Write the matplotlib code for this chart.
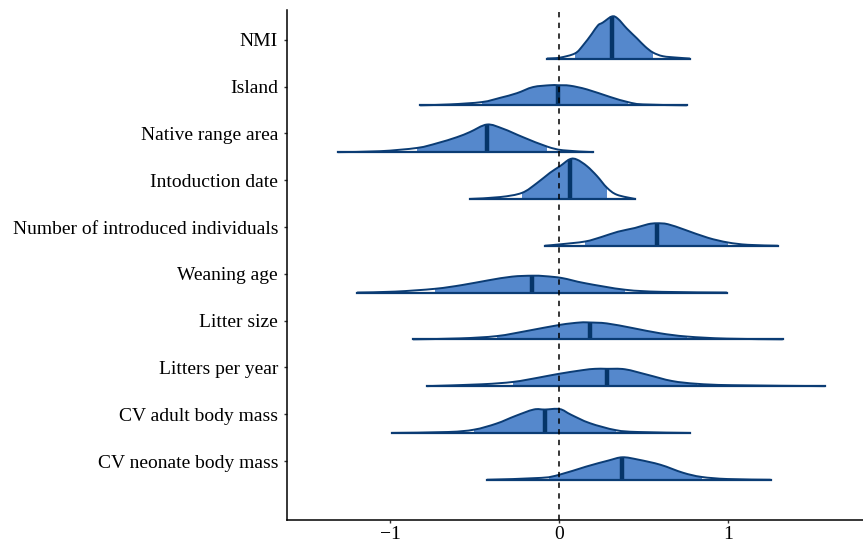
import numpy as np
import matplotlib
matplotlib.use("Agg")
import matplotlib.pyplot as plt
from matplotlib.path import Path
from matplotlib.patches import PathPatch, Rectangle

plt.rcParams['font.family'] = ['Liberation Serif', 'DejaVu Serif']

# parameter names, top to bottom
params = ["NMI", "Island", "Native range area", "Intoduction date",
          "Number of introduced individuals", "Weaning age", "Litter size",
          "Litters per year", "CV adult body mass", "CV neonate body mass"]

# posterior medians
medians = [0.314, -0.006, -0.426, 0.065, 0.580, -0.160, 0.183, 0.284, -0.083, 0.376]

# shaded interval (lower, upper)
int_lo = [0.095, -0.456, -0.840, -0.219, 0.154, -0.734, -0.367, -0.272, -0.503, -0.060]
int_hi = [0.556, 0.408, -0.071, 0.284, 1.000, 0.391, 0.757, 0.817, 0.336, 0.844]

# density outlines: x values and heights (row units)
dens_x = [
    [-0.071, 0.006, 0.095, 0.142, 0.195, 0.231, 0.260, 0.314, 0.349, 0.402, 0.462, 0.509, 0.556, 0.615, 0.698, 0.775],
    [-0.822, -0.645, -0.456, -0.349, -0.249, -0.154, -0.053, -0.006, 0.065, 0.166, 0.302, 0.408, 0.497, 0.757],
    [-1.308, -1.059, -0.840, -0.722, -0.604, -0.527, -0.426, -0.331, -0.213, -0.071, 0.024, 0.201],
    [-0.527, -0.349, -0.219, -0.130, -0.053, 0.006, 0.065, 0.107, 0.166, 0.225, 0.284, 0.343, 0.450],
    [-0.083, 0.006, 0.154, 0.254, 0.349, 0.450, 0.527, 0.580, 0.645, 0.746, 0.882, 1.000, 1.118, 1.296],
    [-1.195, -0.970, -0.734, -0.574, -0.420, -0.278, -0.160, -0.083, 0.018, 0.154, 0.391, 0.609, 0.994],
    [-0.864, -0.586, -0.367, -0.189, 0.006, 0.124, 0.183, 0.284, 0.438, 0.598, 0.757, 0.994, 1.325],
    [-0.781, -0.456, -0.272, -0.124, -0.006, 0.136, 0.213, 0.284, 0.391, 0.527, 0.669, 0.817, 1.024, 1.574],
    [-0.989, -0.657, -0.503, -0.370, -0.260, -0.150, -0.083, 0.005, 0.071, 0.182, 0.336, 0.468, 0.778],
    [-0.426, -0.105, 0.005, 0.160, 0.292, 0.376, 0.469, 0.601, 0.734, 0.844, 0.999, 1.253],
]
dens_h = [
    [0, 0.02, 0.11, 0.28, 0.53, 0.71, 0.77, 0.90, 0.85, 0.64, 0.43, 0.26, 0.13, 0.05, 0.02, 0],
    [0, 0.02, 0.07, 0.16, 0.26, 0.39, 0.43, 0.43, 0.42, 0.34, 0.18, 0.07, 0.02, 0],
    [0, 0.02, 0.09, 0.19, 0.32, 0.43, 0.59, 0.50, 0.32, 0.12, 0.04, 0],
    [0, 0.04, 0.13, 0.34, 0.56, 0.70, 0.85, 0.84, 0.70, 0.49, 0.24, 0.09, 0],
    [0, 0.03, 0.09, 0.19, 0.30, 0.38, 0.46, 0.48, 0.46, 0.34, 0.17, 0.07, 0.02, 0],
    [0, 0.02, 0.08, 0.16, 0.26, 0.34, 0.36, 0.35, 0.31, 0.20, 0.06, 0.015, 0],
    [0, 0.02, 0.07, 0.18, 0.31, 0.36, 0.36, 0.34, 0.24, 0.13, 0.06, 0.015, 0],
    [0, 0.04, 0.09, 0.18, 0.26, 0.34, 0.37, 0.37, 0.36, 0.24, 0.11, 0.05, 0.02, 0],
    [0, 0.02, 0.07, 0.20, 0.36, 0.50, 0.50, 0.51, 0.39, 0.21, 0.06, 0.02, 0],
    [0, 0.04, 0.11, 0.28, 0.41, 0.48, 0.43, 0.32, 0.15, 0.06, 0.015, 0],
]

fill_col = "#5588cc"
line_col = "#0b3c74"
med_col = "#053569"


# smooth outline through the read points (Catmull-Rom as cubic Bezier segments)
def smooth_path(x, y, close=False):
    pts = np.column_stack([x, y])
    verts = [pts[0]]
    codes = [Path.MOVETO]
    for k in range(len(pts) - 1):
        p0 = pts[max(k - 1, 0)]
        p1 = pts[k]
        p2 = pts[k + 1]
        p3 = pts[min(k + 2, len(pts) - 1)]
        c1 = p1 + (p2 - p0) / 6.0
        c2 = p2 - (p3 - p1) / 6.0
        c1[1] = max(c1[1], pts[0][1])
        c2[1] = max(c2[1], pts[0][1])
        verts += [c1, c2, p2]
        codes += [Path.CURVE4] * 3
    if close:
        verts.append(pts[0])
        codes.append(Path.CLOSEPOLY)
    return Path(verts, codes)


fig = plt.figure(figsize=(8.63, 5.45), dpi=100)
ax = fig.add_axes([0.3326, 0.0459, 0.6674, 0.936])

n = len(params)
for i in range(n):
    ypos = n - 1 - i
    base = ypos - 0.4
    x = np.array(dens_x[i])
    h = np.array(dens_h[i])
    # shaded central interval: full area clipped to the interval
    area = PathPatch(smooth_path(x, base + h, close=True), facecolor=fill_col,
                     edgecolor="none", zorder=2)
    ax.add_patch(area)
    clip = Rectangle((int_lo[i], base - 0.01), int_hi[i] - int_lo[i], 1.2,
                     transform=ax.transData, visible=False)
    ax.add_patch(clip)
    area.set_clip_path(clip)
    # median line
    mh = np.interp(medians[i], x, h)
    ax.plot([medians[i], medians[i]], [base, base + mh], color=med_col, lw=3.2,
            solid_capstyle='butt', zorder=3)
    # outline + baseline
    ax.add_patch(PathPatch(smooth_path(x, base + h), facecolor="none",
                           edgecolor=line_col, lw=1.4, zorder=4))
    ax.plot([x[0], x[-1]], [base, base], color=line_col, lw=1.6, zorder=4)

ax.axvline(0, color="black", lw=1.1, ls=(0, (3.5, 3.5)), zorder=5)

ax.set_xlim(-1.61, 1.80)
ax.set_ylim(-1.26, 9.64)
ax.set_yticks(range(n))
ax.set_yticklabels(params[::-1])
ax.set_xticks([-1, 0, 1])
ax.set_xticklabels(["\u22121", "0", "1"])

for s in ["top", "right"]:
    ax.spines[s].set_visible(False)
for s in ["left", "bottom"]:
    ax.spines[s].set_linewidth(1.1)
ax.tick_params(axis="both", labelsize=14, length=2.5, width=1, color="#333333")
ax.tick_params(axis="y", pad=4)
ax.tick_params(axis="x", pad=1.5)

fig.savefig("out.png", dpi=100)
